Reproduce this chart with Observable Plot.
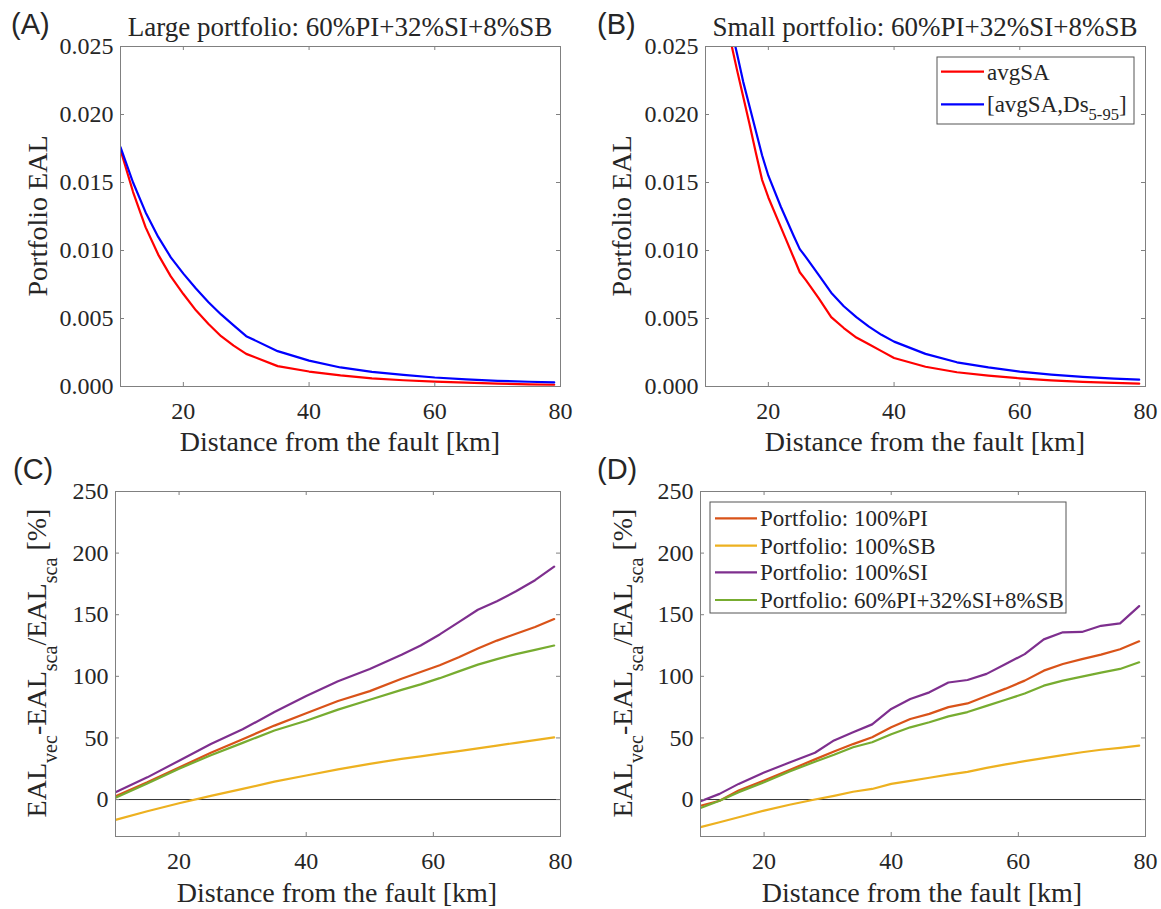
<!DOCTYPE html>
<html><head><meta charset="utf-8">
<script src="https://cdn.jsdelivr.net/npm/d3@7"></script>
<script src="https://cdn.jsdelivr.net/npm/@observablehq/plot@0.6"></script>
<style>
body{margin:0;background:#fff}
#fig{position:relative;width:1161px;height:909px;background:#fff;overflow:hidden}
#fig svg{position:absolute;overflow:visible}
</style>
</head><body><div id="fig"></div>
<script>
// ---------- data ----------
const xTicks = [20, 40, 60, 80];
const ealTicks = [0, 0.005, 0.010, 0.015, 0.020, 0.025];
const pctTicks = [0, 50, 100, 150, 200, 250];

// Panel A: large portfolio
const distA = [10, 12, 14, 16, 18, 20, 22, 24, 26, 28, 30, 35, 40, 45, 50, 55, 60, 65, 70, 75, 79];
const A_avgSA = [0.0174, 0.0143, 0.0117, 0.0097, 0.0081, 0.0068, 0.0056, 0.0046, 0.0037, 0.0030, 0.0024, 0.0015, 0.0011, 0.00082, 0.0006, 0.00046, 0.00036, 0.00028, 0.00021, 0.00016, 0.00013];
const A_avgSADs = [0.0176, 0.0150, 0.0128, 0.0110, 0.0095, 0.0083, 0.0072, 0.0062, 0.0053, 0.0045, 0.0037, 0.0026, 0.0019, 0.0014, 0.00108, 0.00085, 0.00066, 0.00053, 0.00042, 0.00035, 0.0003];

// Panel B: small portfolio
const distB = [13, 14, 15, 16, 17, 18, 19, 20, 22, 24, 25, 26, 28, 30, 32, 34, 36, 38, 40, 45, 50, 55, 60, 65, 70, 75, 79];
const B_avgSA = [0.0275, 0.0254, 0.0233, 0.0213, 0.0193, 0.0172, 0.0152, 0.0139, 0.0117, 0.0095, 0.0084, 0.0078, 0.0065, 0.0051, 0.0043, 0.0036, 0.0031, 0.0026, 0.0021, 0.00145, 0.00105, 0.0008, 0.0006, 0.00045, 0.00034, 0.00026, 0.00021];
const B_avgSADs = [0.0285, 0.0265, 0.0245, 0.0224, 0.0206, 0.0188, 0.0170, 0.0155, 0.0132, 0.0111, 0.0101, 0.0095, 0.0082, 0.0069, 0.0059, 0.0051, 0.0044, 0.0038, 0.0033, 0.0024, 0.00178, 0.0014, 0.0011, 0.00088, 0.00071, 0.00058, 0.0005];

// Panel C: large portfolio, relative difference [%]
const distC = [10, 15, 20, 25, 30, 35, 40, 45, 50, 55, 58, 61, 64, 67, 70, 73, 76, 79];
const C_PI = [2.7, 14, 26, 38, 49, 60, 70, 80, 88, 98, 103.5, 109, 115.5, 122.5, 129, 134.5, 140, 146.5];
const C_SB = [-16.5, -9.5, -3, 3, 8.6, 14.5, 19.5, 24.5, 29, 33, 35, 37.2, 39.3, 41.5, 43.8, 46, 48.2, 50.5];
const C_SI = [6, 18, 31.5, 45, 57, 71, 84, 96, 106, 117.5, 125, 134, 144, 154, 161, 169, 178, 189];
const C_MIX = [1.4, 13, 25, 36, 46, 56, 64, 73, 81, 89, 93.5, 98.5, 104, 109.5, 114, 118, 121.5, 125];

// Panel D: small portfolio, relative difference [%]
const distD = [10, 13, 16, 20, 24, 28, 31, 34, 37, 40, 43, 46, 49, 52, 55, 58, 61, 64, 67, 70, 73, 76, 79];
const D_PI = [-5, -1, 7.3, 15.4, 24, 32.6, 39, 45, 50.5, 58.6, 65.4, 69.5, 75, 78, 84, 90, 96.5, 104.6, 110, 114, 117.6, 122, 128.4];
const D_SB = [-22.4, -18.4, -14.4, -9, -4.2, 0, 3, 6.3, 8.6, 12.7, 15.2, 17.7, 20.2, 22.5, 25.7, 28.5, 31.2, 33.6, 36, 38.4, 40.4, 42, 43.8];
const D_SI = [-1.4, 4.6, 12.7, 22, 30, 38, 48, 54.6, 61, 73.5, 81.6, 87, 95, 97, 102, 110, 118, 130, 135.7, 136, 141, 143, 157];
const D_MIX = [-6.8, -1, 6, 14, 22.8, 30.6, 36.3, 42.4, 46.5, 53, 58.6, 62.7, 67.5, 71, 76, 81, 86, 92.4, 96.5, 99.7, 103, 106, 111.4];

const eLabels = ["avgSA", "[avgSA,Ds5-95]"];
const pLabels = ["Portfolio: 100%PI", "Portfolio: 100%SB", "Portfolio: 100%SI", "Portfolio: 60%PI+32%SI+8%SB"];
const eColors = ["#ff0000", "#0000ff"];
const pColors = ["#D95319", "#EDB120", "#7E2F8E", "#77AC30"];

// ---------- helpers ----------
const SERIF = "Liberation Serif";
const SANS = "Liberation Sans";
const INK = "#262626";
const FRAME = "#808080";

function toRows(xs, cols, names) {
  const rows = [];
  cols.forEach((c, j) => c.forEach((v, i) => rows.push({x: xs[i], y: v, s: names[j]})));
  return rows;
}

function panel(cfg) {
  const {ox, oy, w, h, ml, mr, mt, mb, yDomain, yTicks, yFmt, rows, names, colors, zero, topTicks} = cfg;
  const iw = w - ml - mr, ih = h - mt - mb;
  const svg = Plot.plot({
    width: w, height: h,
    marginLeft: ml, marginRight: mr, marginTop: mt, marginBottom: mb,
    x: {domain: [10, 80]},
    y: {domain: yDomain},
    color: {domain: names, range: colors},
    style: {fontFamily: SERIF, fontSize: "24px", color: INK, background: "transparent", overflow: "visible"},
    marks: [
      zero ? Plot.ruleY([0], {stroke: "#333", strokeWidth: 1}) : null,
      Plot.line(rows, {x: "x", y: "y", z: "s", stroke: "s", strokeWidth: 2.2, clip: true}),
      Plot.frame({stroke: FRAME, strokeWidth: 1}),
      Plot.tickX(xTicks.filter(d => d < 80), {x: d => d, stroke: FRAME, insetTop: ih - 4}),
      Plot.tickX(topTicks, {x: d => d, stroke: FRAME, insetBottom: ih - 4}),
      Plot.tickY(yTicks.filter(d => d > yDomain[0] && d < yDomain[1]), {y: d => d, stroke: FRAME, insetRight: iw - 4}),
      Plot.tickY(yTicks.filter(d => d > yDomain[0] && d < yDomain[1]), {y: d => d, stroke: FRAME, insetLeft: iw - 4}),
      Plot.axisX(xTicks, {tickSize: 0, tickPadding: 15, label: null, tickFormat: d => String(d), fontFamily: SERIF, fontSize: 24}),
      Plot.axisY(yTicks, {tickSize: 0, tickPadding: 7, label: null, tickFormat: yFmt, fontFamily: SERIF, fontSize: 24})
    ]
  });
  svg.style.left = ox + "px";
  svg.style.top = oy + "px";
  document.getElementById("fig").appendChild(svg);
  return d3.select(svg);
}

function txt(sel, {x, y, parts, size, family = SERIF, anchor = "middle", rotate = 0, subScale = 0.72, subShift = 0.4}) {
  const t = sel.append("text")
    .attr("transform", `translate(${x},${y})` + (rotate ? ` rotate(${rotate})` : ""))
    .attr("text-anchor", anchor)
    .attr("font-family", family)
    .style("font-family", family)
    .attr("font-size", size)
    .attr("fill", INK)
    .style("white-space", "pre");
  let shifted = 0;
  for (const p of parts) {
    const isSub = typeof p === "object";
    const ts = t.append("tspan").text(isSub ? p.sub : p);
    if (isSub) {
      const d = size * subShift;
      ts.attr("font-size", size * subScale).attr("dy", d - shifted);
      shifted = d;
    } else if (shifted) {
      ts.attr("dy", -shifted);
      shifted = 0;
    }
  }
  return t;
}

function legend(sel, {x, y, w, h, rows, lineX1, lineX2, textX, items, colors, size}) {
  const g = sel.append("g");
  g.append("rect").attr("x", x).attr("y", y).attr("width", w).attr("height", h)
    .attr("fill", "#fff").attr("stroke", "#555").attr("stroke-width", 1);
  items.forEach((it, i) => {
    g.append("line").attr("x1", lineX1).attr("x2", lineX2).attr("y1", rows[i]).attr("y2", rows[i])
      .attr("stroke", colors[i]).attr("stroke-width", 2.2);
    txt(g, {x: textX, y: rows[i] + 8, parts: it, size, anchor: "start", subShift: 0.35});
  });
}

const fmtEAL = d3.format(".3f");
const fmtPct = d => String(d);

// ---------- Panel A ----------
const pa = panel({ox: 0, oy: 0, w: 580, h: 455, ml: 120, mr: 20, mt: 46, mb: 69,
  yDomain: [0, 0.025], yTicks: ealTicks, yFmt: fmtEAL,
  rows: toRows(distA, [A_avgSA, A_avgSADs], eLabels), names: eLabels, colors: eColors, topTicks: [20, 40, 60]});
txt(pa, {x: 340, y: 36, parts: ["Large portfolio: 60%PI+32%SI+8%SB"], size: 27});
txt(pa, {x: 340, y: 451, parts: ["Distance from the fault [km]"], size: 28});
txt(pa, {x: 47, y: 216, parts: ["Portfolio EAL"], size: 28, rotate: -90});
txt(pa, {x: 11, y: 34, parts: ["(A)"], size: 29, family: SANS, anchor: "start"});

// ---------- Panel B ----------
const pb = panel({ox: 580, oy: 0, w: 581, h: 455, ml: 125, mr: 16, mt: 46, mb: 69,
  yDomain: [0, 0.025], yTicks: ealTicks, yFmt: fmtEAL,
  rows: toRows(distB, [B_avgSA, B_avgSADs], eLabels), names: eLabels, colors: eColors, topTicks: [20, 40, 60]});
txt(pb, {x: 345, y: 36, parts: ["Small portfolio: 60%PI+32%SI+8%SB"], size: 27});
txt(pb, {x: 345, y: 451, parts: ["Distance from the fault [km]"], size: 28});
txt(pb, {x: 51, y: 216, parts: ["Portfolio EAL"], size: 28, rotate: -90});
txt(pb, {x: 17, y: 34, parts: ["(B)"], size: 29, family: SANS, anchor: "start"});
legend(pb, {x: 357, y: 57, w: 197, h: 67, rows: [71.7, 104.3], lineX1: 361, lineX2: 404, textX: 407,
  items: [["avgSA"], ["[avgSA,Ds", {sub: "5-95"}, "]"]], colors: eColors, size: 23});

// ---------- Panel C ----------
const yLabelParts = ["EAL", {sub: "vec"}, "-EAL", {sub: "sca"}, "/EAL", {sub: "sca"}, " [%]"];
const pc = panel({ox: 0, oy: 450, w: 580, h: 459, ml: 115, mr: 20, mt: 41, mb: 73,
  yDomain: [-30, 250], yTicks: pctTicks, yFmt: fmtPct,
  rows: toRows(distC, [C_PI, C_SB, C_SI, C_MIX], pLabels), names: pLabels, colors: pColors, zero: true, topTicks: [20, 40, 60]});
txt(pc, {x: 337, y: 452, parts: ["Distance from the fault [km]"], size: 28});
txt(pc, {x: 46, y: 213, parts: yLabelParts, size: 28, rotate: -90});
txt(pc, {x: 13, y: 29, parts: ["(C)"], size: 29, family: SANS, anchor: "start"});

// ---------- Panel D ----------
const pd = panel({ox: 580, oy: 450, w: 581, h: 459, ml: 120, mr: 16, mt: 41, mb: 73,
  yDomain: [-30, 250], yTicks: pctTicks, yFmt: fmtPct,
  rows: toRows(distD, [D_PI, D_SB, D_SI, D_MIX], pLabels), names: pLabels, colors: pColors, zero: true, topTicks: [20, 40, 60]});
txt(pd, {x: 342, y: 452, parts: ["Distance from the fault [km]"], size: 28});
txt(pd, {x: 52, y: 213, parts: yLabelParts, size: 28, rotate: -90});
txt(pd, {x: 17, y: 29, parts: ["(D)"], size: 29, family: SANS, anchor: "start"});
legend(pd, {x: 130, y: 52, w: 356, h: 111, rows: [68.3, 95.7, 122.3, 150], lineX1: 135, lineX2: 177, textX: 180,
  items: pLabels.map(s => [s]), colors: pColors, size: 23});
</script>
</body></html>
